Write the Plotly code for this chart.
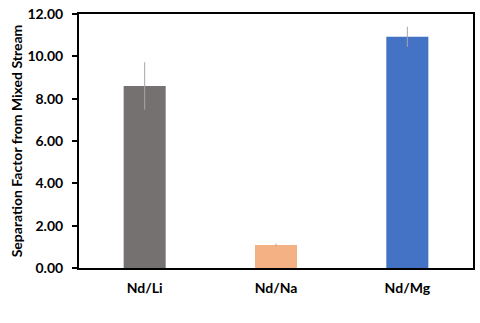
import plotly.graph_objects as go

categories = ["Nd/Li", "Nd/Na", "Nd/Mg"]
values = [8.6, 1.09, 10.92]
errors = [1.12, 0.06, 0.48]
colors = ["#767171", "#F4B183", "#4472C4"]
tick_vals = [0, 2, 4, 6, 8, 10, 12]

fig = go.Figure()
fig.add_trace(go.Bar(
    x=categories, y=values,
    marker=dict(color=colors, line=dict(width=0)),
    error_y=dict(type="data", array=errors, color="#A6A6A6", thickness=1, width=0),
    width=0.32,
))

fig.update_layout(
    width=480, height=323,
    margin=dict(l=79, r=5, t=12, b=55),
    plot_bgcolor="white", paper_bgcolor="white",
    font=dict(family="Lato", size=14, color="#000000"),
    showlegend=False,
    xaxis=dict(
        showline=True, linecolor="#000000", linewidth=2, mirror=True,
        ticks="", tickfont=dict(size=14, family="Lato", weight="bold"),
        range=[-0.5, 2.5], ticklabelstandoff=6,
    ),
    yaxis=dict(
        range=[0, 12], tickvals=tick_vals, tickformat=".2f",
        showline=True, linecolor="#000000", linewidth=2, mirror=True,
        ticks="outside", ticklen=5, tickwidth=2, tickcolor="#000000",
        showgrid=False, zeroline=False, ticklabelstandoff=6,
        tickfont=dict(size=14, family="Lato", weight="bold"),
        title=dict(text="Separation Factor from Mixed Stream",
                   font=dict(size=14, family="Lato", weight="bold"), standoff=1),
    ),
)

fig.write_html("out.html")
